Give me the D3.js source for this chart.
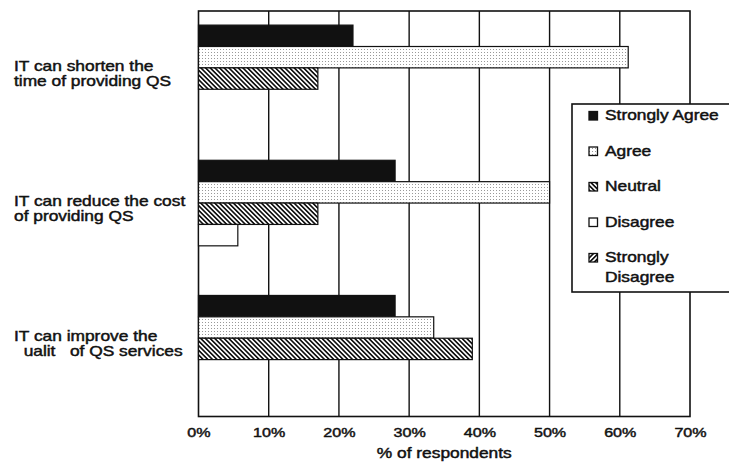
<!DOCTYPE html>
<html><head><meta charset="utf-8">
<script src="https://cdn.jsdelivr.net/npm/d3@7"></script>
<style>
body{margin:0;background:#fff;overflow:hidden}
text{font-family:"Liberation Sans",Arial,sans-serif;fill:#111;white-space:pre;stroke:#111;stroke-width:0.45}
</style>
</head><body>
<svg id="c" width="729" height="464"></svg>
<script>
// ---- data ----
const categories = ["shorten", "reduce", "improve"];
const categoryLabels = [
  ["IT can shorten the", "time of providing QS"],
  ["IT can reduce the cost", "of providing QS"],
  ["IT can improve the", "  ualit   of QS services"]
];
const seriesNames = ["Strongly Agree", "Agree", "Neutral", "Disagree", "Strongly Disagree"];
const legendLabels = [["Strongly Agree"], ["Agree"], ["Neutral"], ["Disagree"], ["Strongly", "Disagree"]];
const stronglyAgree    = [22, 28, 28];
const agree            = [61.2, 50, 33.5];
const neutral          = [17, 17, 39];
const disagree         = [0, 5.6, 0];
const stronglyDisagree = [0, 0, 0];
const tickValues = [0, 10, 20, 30, 40, 50, 60, 70];
const tickLabels = ["0%", "10%", "20%", "30%", "40%", "50%", "60%", "70%"];
const axisTitle = "% of respondents";

const seriesValues = [stronglyAgree, agree, neutral, disagree, stronglyDisagree];

// ---- layout ----
const W = 729, H = 464;
const M = {left: 198.5, right: 39, top: 11, bottom: 47.5};
const SX = 1.24; // horizontal stretch of the scanned text
const svg = d3.select("#c");
const defs = svg.append("defs");

function hatch(id, angle, sw, gap) {
  const p = defs.append("pattern").attr("id", id).attr("patternUnits", "userSpaceOnUse")
    .attr("width", gap).attr("height", gap).attr("patternTransform", `rotate(${angle})`);
  p.append("rect").attr("width", gap).attr("height", gap).attr("fill", "#fff");
  p.append("line").attr("x1", gap / 2).attr("x2", gap / 2).attr("y1", 0).attr("y2", gap)
    .attr("stroke", "#111").attr("stroke-width", sw);
}
hatch("neutral", -45, 1.7, 3.3);
hatch("sdis", 45, 1.7, 3.3);
const dots = defs.append("pattern").attr("id", "dots").attr("patternUnits", "userSpaceOnUse")
  .attr("width", 3).attr("height", 3);
dots.append("rect").attr("width", 3).attr("height", 3).attr("fill", "#fff");
dots.append("rect").attr("x", 1).attr("y", 1).attr("width", 1).attr("height", 1).attr("fill", "#999");

const fills = ["#111", "url(#dots)", "url(#neutral)", "#fff", "url(#sdis)"];

const x = d3.scaleLinear().domain([0, 70]).range([M.left, W - M.right]);
const y0 = d3.scaleBand().domain(categories).range([M.top, H - M.bottom]).paddingInner(0).paddingOuter(0);
const y1 = d3.scaleBand().domain(seriesNames).range([0, y0.bandwidth()]).paddingInner(0).paddingOuter(0.66);

function txt(g, px, py, s, size, anchor) {
  return g.append("text").attr("transform", `translate(${px},${py}) scale(${SX},1)`)
    .attr("font-size", size).attr("text-anchor", anchor || "start").text(s);
}

// gridlines
svg.append("g").selectAll("line").data(tickValues.slice(1, -1)).join("line")
  .attr("x1", d => x(d)).attr("x2", d => x(d))
  .attr("y1", M.top).attr("y2", H - M.bottom)
  .attr("stroke", "#111").attr("stroke-width", 1.4);

// frame
svg.append("rect").attr("x", x(0)).attr("y", M.top)
  .attr("width", x(70) - x(0)).attr("height", H - M.bottom - M.top)
  .attr("fill", "none").attr("stroke", "#111").attr("stroke-width", 1.6);

// bars
const rows = [];
categories.forEach((c, ci) => seriesNames.forEach((s, si) => rows.push({c, s, si, v: seriesValues[si][ci]})));
svg.append("g").selectAll("rect").data(rows.filter(d => d.v > 0)).join("rect")
  .attr("x", x(0))
  .attr("y", d => y0(d.c) + y1(d.s))
  .attr("width", d => x(d.v) - x(0))
  .attr("height", y1.bandwidth())
  .attr("fill", d => fills[d.si])
  .attr("stroke", "#111").attr("stroke-width", 1.2);

// x axis
const ax = svg.append("g").attr("transform", `translate(0,${H - M.bottom})`)
  .call(d3.axisBottom(x).tickValues(tickValues).tickFormat((d, i) => tickLabels[i]).tickSize(0).tickPadding(11.3));
ax.select(".domain").remove();
ax.attr("font-family", null);
ax.selectAll("text").attr("font-size", 13).attr("transform", `scale(${SX},1)`);

txt(svg, (x(0) + x(70)) / 2, 458, axisTitle, 14, "middle");

// category labels
categories.forEach((c, i) => {
  const cy = y0(c) + y0.bandwidth() / 2;
  categoryLabels[i].forEach((line, k) => txt(svg, 14, cy - 8 + k * 15, line, 14));
});

// legend
const lg = svg.append("g");
lg.append("rect").attr("x", 572).attr("y", 104).attr("width", 220).attr("height", 188)
  .attr("fill", "#fff").attr("stroke", "#111").attr("stroke-width", 1.6);
seriesNames.forEach((s, i) => {
  const by = 120 + i * 35.5;
  lg.append("rect").attr("x", 589).attr("y", by - 8.5).attr("width", 8.5).attr("height", 8.5)
    .attr("fill", fills[i]).attr("stroke", "#111").attr("stroke-width", 1.3);
  legendLabels[i].forEach((line, k) => txt(lg, 605, by + k * 20, line, 14));
});
</script>
</body></html>
